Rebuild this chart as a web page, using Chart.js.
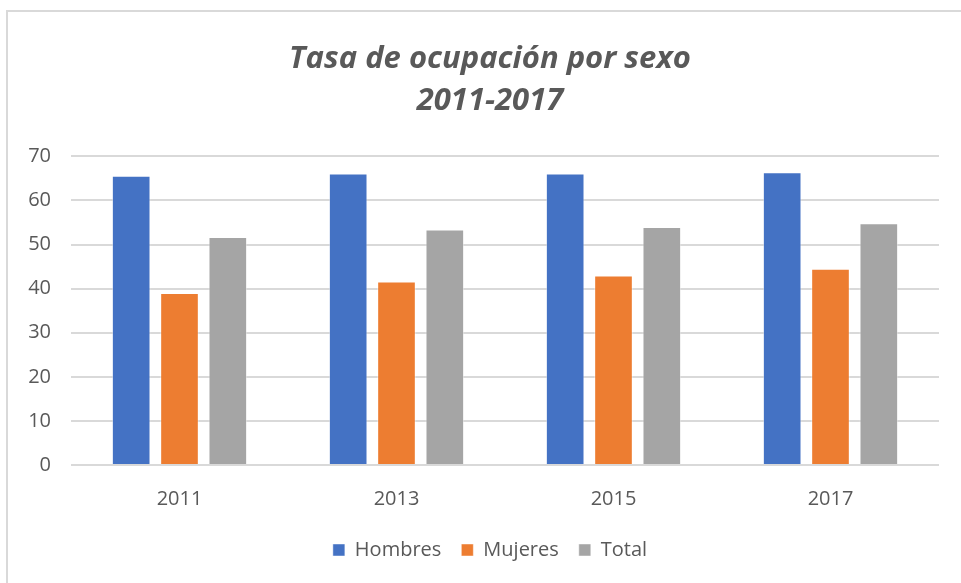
<!DOCTYPE html>
<html>
<head>
<meta charset="utf-8">
<script src="https://cdn.jsdelivr.net/npm/chart.js@4.4.1/dist/chart.umd.min.js"></script>
<style>
  html, body { margin: 0; padding: 0; background: #ffffff; overflow: hidden; width: 961px; height: 583px; }
  #frame { position: absolute; left: 6px; top: 10px; width: 1200px; height: 1000px; border: 2px solid #d9d9d9; box-sizing: border-box; }
  #wrap { position: absolute; left: 0; top: 0; width: 1000px; height: 583px; }
</style>
</head>
<body>
<div id="frame"></div>
<div id="wrap"><canvas id="c" width="1000" height="583"></canvas></div>
<script>
const categories = ['2011', '2013', '2015', '2017'];
const hombres = [65.6, 66.1, 66.1, 66.4];
const mujeres = [39.0, 41.6, 43.0, 44.5];
const total = [51.7, 53.4, 54.0, 54.8];
const titleLines = ['Tasa de ocupación por sexo', '2011-2017'];
const seriesNames = ['Hombres', 'Mujeres', 'Total'];

const FONT = "'Open Sans', 'DejaVu Sans', sans-serif";
const GREY = '#595959';

new Chart(document.getElementById('c'), {
  type: 'bar',
  data: {
    labels: categories,
    datasets: [
      { label: seriesNames[0], data: hombres, backgroundColor: '#4472C4', borderColor: 'rgba(255,255,255,0.45)', borderWidth: 1 },
      { label: seriesNames[1], data: mujeres, backgroundColor: '#ED7D31', borderColor: 'rgba(255,255,255,0.45)', borderWidth: 1 },
      { label: seriesNames[2], data: total, backgroundColor: '#A5A5A5', borderColor: 'rgba(255,255,255,0.45)', borderWidth: 1 }
    ]
  },
  options: {
    responsive: false,
    animation: false,
    devicePixelRatio: 1,
    datasets: { bar: { categoryPercentage: 0.668, barPercentage: 0.8 } },
    layout: { padding: { left: 20, right: 40, top: 0, bottom: 13 }, autoPadding: false },
    plugins: {
      title: {
        display: true,
        text: titleLines,
        color: GREY,
        font: { family: FONT, size: 31, style: 'italic', weight: 'bold', lineHeight: 1.36 },
        padding: { top: 38, bottom: 34 }
      },
      legend: {
        position: 'bottom',
        labels: {
          color: GREY,
          font: { family: FONT, size: 20 },
          boxWidth: 12,
          boxHeight: 12,
          padding: 20
        }
      },
      tooltip: { enabled: false }
    },
    scales: {
      x: {
        grid: { display: false, drawTicks: false },
        border: { display: false },
        ticks: { color: GREY, font: { family: FONT, size: 20 }, padding: 22 },
        afterFit: s => { s.height = 55; }
      },
      y: {
        min: 0,
        max: 70,
        ticks: { stepSize: 10, color: GREY, font: { family: FONT, size: 20 }, padding: 20 },
        grid: { color: '#d9d9d9', lineWidth: 2, drawTicks: false },
        border: { display: false },
        afterFit: s => { s.width = 51; }
      },
      yPad: {
        position: 'right',
        grid: { display: false, drawTicks: false },
        border: { display: false },
        ticks: { display: false },
        afterFit: s => { s.width = 21; }
      }
    }
  }
});
</script>
</body>
</html>
